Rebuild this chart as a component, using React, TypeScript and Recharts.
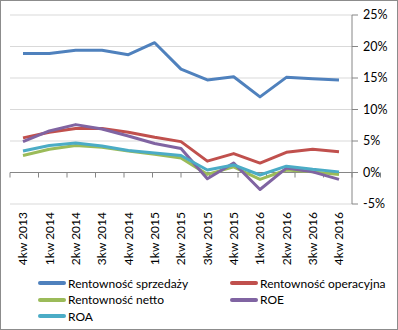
import React from "react"
import { LineChart, Line, XAxis, YAxis, CartesianGrid, ReferenceLine } from "recharts"

const categories = [
  "4kw 2013", "1kw 2014", "2kw 2014", "3kw 2014", "4kw 2014", "1kw 2015", "2kw 2015",
  "3kw 2015", "4kw 2015", "1kw 2016", "2kw 2016", "3kw 2016", "4kw 2016",
]

const sprzedazy = [18.9, 18.9, 19.4, 19.4, 18.7, 20.6, 16.4, 14.7, 15.2, 12.0, 15.1, 14.9, 14.7]
const operacyjna = [5.5, 6.4, 7.0, 7.0, 6.4, 5.6, 4.9, 1.8, 3.0, 1.5, 3.2, 3.7, 3.3]
const netto = [2.7, 3.7, 4.3, 4.0, 3.4, 2.9, 2.3, -0.3, 0.9, -1.1, 0.4, 0.1, -0.3]
const roe = [4.9, 6.6, 7.6, 6.9, 5.8, 4.6, 3.8, -1.0, 1.5, -2.7, 0.7, 0.1, -1.1]
const roa = [3.4, 4.3, 4.7, 4.2, 3.5, 3.1, 2.7, 0.4, 1.2, -0.4, 1.0, 0.5, 0.1]

const yTicks = [-5, 0, 5, 10, 15, 20, 25]

const series = [
  { key: "sprzedazy", name: "Rentowność sprzedaży", color: "#4F81BD", values: sprzedazy },
  { key: "operacyjna", name: "Rentowność operacyjna", color: "#C0504D", values: operacyjna },
  { key: "netto", name: "Rentowność netto", color: "#9BBB59", values: netto },
  { key: "roe", name: "ROE", color: "#8064A2", values: roe },
  { key: "roa", name: "ROA", color: "#4BACC6", values: roa },
]

const data = categories.map((cat, i) => {
  const row: Record<string, string | number> = { cat }
  series.forEach((s) => {
    row[s.key] = s.values[i]
  })
  return row
})

// boundaries between categories, for the small tick marks on the 0% line
const boundaries = categories.map((_, i) => i).concat(categories.length)

const FONT = "Lato, 'Liberation Sans', sans-serif"

const XTick = (props: any) => {
  const { x, y, payload } = props
  return (
    <g transform={`translate(${x},${y})`}>
      <text transform="rotate(-90)" textAnchor="end" dy="0.36em" fontSize={12} fill="#000" fontFamily={FONT}>
        {payload.value}
      </text>
    </g>
  )
}

export default function App() {
  return (
    <div style={{ position: "relative", width: 396, height: 328, border: "1px solid #8c8c8c", background: "#fff" }}>
      <style>{`body{margin:0}`}</style>
      <LineChart width={396} height={328} data={data} margin={{ top: 14, right: 0, bottom: 55, left: 9 }}>
        <CartesianGrid vertical={false} stroke="#d9d9d9" />
        <XAxis
          dataKey="cat"
          interval={0}
          axisLine={false}
          tickLine={false}
          tickSize={0}
          tickMargin={8}
          height={70}
          padding={{ left: 13, right: 13 }}
          tick={<XTick />}
        />
        <XAxis xAxisId="b" type="number" domain={[0, categories.length]} hide />
        <YAxis
          orientation="right"
          width={45}
          domain={[-5, 25]}
          ticks={yTicks}
          interval={0}
          tickFormatter={(v: number) => `${v}%`}
          axisLine={{ stroke: "#868686" }}
          tickLine={{ stroke: "#868686" }}
          tickSize={6}
          tickMargin={5}
          tick={{ fontSize: 12.5, fill: "#000", fontFamily: FONT }}
        />
        <ReferenceLine y={0} stroke="#868686" />
        {boundaries.map((b) => (
          <ReferenceLine
            key={b}
            xAxisId="b"
            segment={[{ x: b, y: 0 }, { x: b, y: -0.8 }]}
            stroke="#868686"
            ifOverflow="visible"
          />
        ))}
        {series.map((s) => (
          <Line
            key={s.key}
            dataKey={s.key}
            name={s.name}
            stroke={s.color}
            strokeWidth={3}
            dot={false}
            type="linear"
            strokeLinejoin="round"
            isAnimationActive={false}
          />
        ))}
      </LineChart>
      <div
        style={{
          position: "absolute",
          left: 37,
          top: 274,
          width: 350,
          display: "grid",
          gridTemplateColumns: "192px 160px",
          rowGap: 0,
          fontFamily: FONT,
          fontSize: 12,
        }}
      >
        {series.map((s) => (
          <div key={s.key} style={{ display: "flex", alignItems: "center", height: 16.5 }}>
            <span style={{ display: "inline-block", width: 28, height: 4, background: s.color, marginRight: 2, borderRadius: 2 }} />
            <span>{s.name}</span>
          </div>
        ))}
      </div>
    </div>
  )
}
